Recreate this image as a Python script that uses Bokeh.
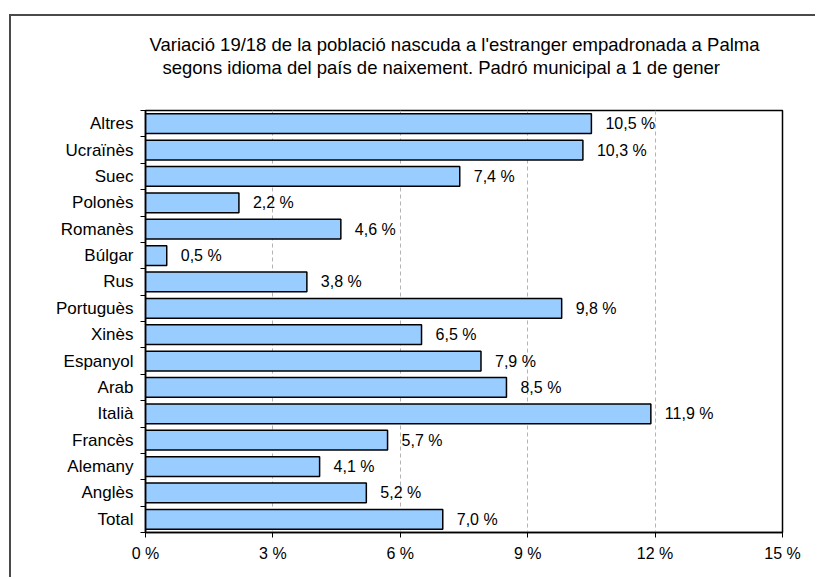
from bokeh.plotting import figure
from bokeh.models import Range1d, FixedTicker, ColumnDataSource, Title
from bokeh.core.properties import value
from bokeh.embed import file_html
from bokeh.resources import INLINE

categories = ["Altres", "Ucraïnès", "Suec", "Polonès", "Romanès", "Búlgar", "Rus",
              "Portuguès", "Xinès", "Espanyol", "Arab", "Italià", "Francès",
              "Alemany", "Anglès", "Total"]
values = [10.5, 10.3, 7.4, 2.2, 4.6, 0.5, 3.8, 9.8, 6.5, 7.9, 8.5, 11.9, 5.7, 4.1, 5.2, 7.0]
x_ticks = [0, 3, 6, 9, 12, 15]
title_lines = ["Variació 19/18 de la població nascuda a l'estranger empadronada a Palma",
               "segons idioma del país de naixement. Padró municipal a 1 de gener"]

FONT = "Liberation Sans"
idx = list(range(len(categories)))
labels = [("%.1f" % v).replace(".", ",") + " %" for v in values]
src = ColumnDataSource(dict(y=idx, v=values, lab=labels))

p = figure(width=806, height=563, output_backend="svg", toolbar_location=None,
           x_range=Range1d(0, 15), y_range=Range1d(len(categories) - 0.5, -0.5),
           min_border_left=136, min_border_right=33, min_border_top=96, min_border_bottom=45)
# outer chart-area border (left & top visible, the rest falls outside the window)
p.margin = (14, 0, 0, 9)
p.styles = {"box-shadow": "inset 2px 2px 0 0 #4a4a4a"}
p.background_fill_color = "white"
p.border_fill_alpha = 0
p.outline_line_color = "black"
p.outline_line_width = 1.5

p.hbar(y="y", right="v", left=0, height=0.75, source=src,
       fill_color="#99CCFF", line_color="black", line_width=1.5)
p.text(x="v", y="y", text="lab", source=src, x_offset=14, text_baseline="middle",
       text_align="left", text_font=value(FONT), text_font_size="16px", text_color="black")

p.xaxis.ticker = FixedTicker(ticks=x_ticks)
p.xaxis.major_label_overrides = {t: "%d %%" % t for t in x_ticks}
p.xaxis.major_tick_out = 5
p.xaxis.major_tick_in = 0
p.xaxis.minor_tick_line_color = None
p.xaxis.major_label_standoff = 7
for ax in (p.xaxis, p.yaxis):
    ax.axis_line_color = "black"
    ax.axis_line_width = 1.5
    ax.major_label_text_font = FONT
    ax.major_label_text_color = "black"
    ax.major_tick_line_color = "black"
p.xaxis.major_label_text_font_size = "16px"
p.yaxis.major_label_text_font_size = "17px"

p.yaxis.ticker = FixedTicker(ticks=idx, minor_ticks=[i - 0.5 for i in range(len(categories) + 1)])
p.yaxis.major_label_overrides = {i: c for i, c in zip(idx, categories)}
p.yaxis.major_tick_out = 0
p.yaxis.major_tick_in = 0
p.yaxis.minor_tick_out = 5
p.yaxis.minor_tick_in = 0
p.yaxis.minor_tick_line_color = "black"
p.yaxis.major_label_standoff = 7

p.xgrid.ticker = FixedTicker(ticks=x_ticks[1:-1])
p.xgrid.grid_line_color = "#b4b4b4"
p.xgrid.grid_line_dash = "4 3"
p.ygrid.visible = False

# two-line title: spacer next to the frame, then line 2, then line 1 (outermost)
p.add_layout(Title(text=" ", text_font_size="2px", standoff=29), "above")
p.add_layout(Title(text=title_lines[1], align="left", offset=17, standoff=0,
                   text_font=FONT, text_font_size="18.5px", text_font_style="normal",
                   text_color="black"), "above")
p.title.text = title_lines[0]
p.title.align = "left"
p.title.offset = 4
p.title.standoff = 0
p.title.text_font = FONT
p.title.text_font_size = "18.5px"
p.title.text_font_style = "normal"
p.title.text_color = "black"

open("out.html", "w").write(file_html(p, INLINE))
